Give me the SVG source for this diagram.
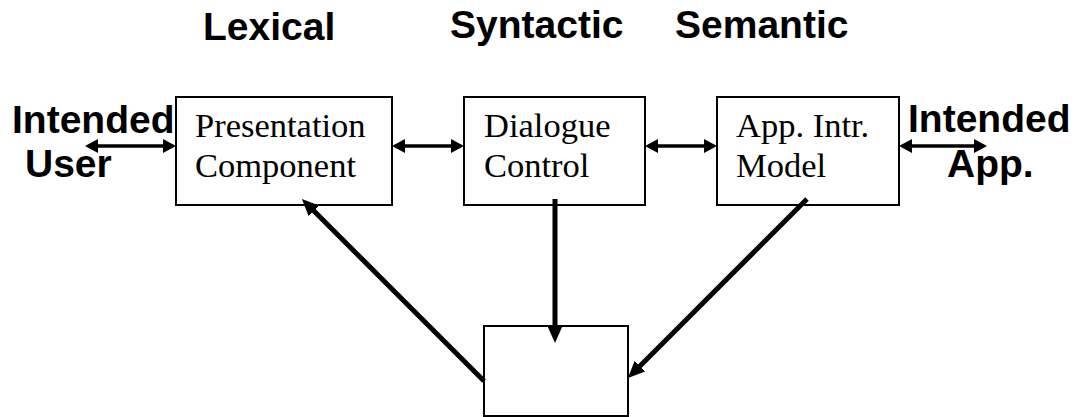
<svg xmlns="http://www.w3.org/2000/svg" width="1083" height="417" viewBox="0 0 1083 417">
  <style>
    .box { fill: #ffffff; stroke: #000000; stroke-width: 2; }
    .label { font-family: "Liberation Serif", "Times New Roman", serif; font-size: 34.5px; fill: #000000; }
    .head { font-family: "Liberation Sans", Arial, sans-serif; font-size: 39px; font-weight: bold; fill: #000000; }
    .link { stroke: #000000; stroke-width: 3.5; fill: none; marker-start: url(#tipS); marker-end: url(#tipS); }
    .flow { stroke: #000000; stroke-width: 5; fill: none; marker-end: url(#tipL); }
  </style>
  <defs>
    <marker id="tipS" markerUnits="userSpaceOnUse" markerWidth="13" markerHeight="14" refX="8" refY="7" orient="auto-start-reverse">
      <path d="M0,0 L13,7 L0,14 z" fill="#000000"/>
    </marker>
    <marker id="tipL" markerUnits="userSpaceOnUse" markerWidth="17" markerHeight="15" refX="7" refY="7.5" orient="auto">
      <path d="M0,0 L17,7.5 L0,15 z" fill="#000000"/>
    </marker>
  </defs>

  <!-- layer headings -->
  <g id="headings">
    <text class="head" x="203" y="40">Lexical</text>
    <text class="head" x="450" y="38">Syntactic</text>
    <text class="head" x="675" y="38">Semantic</text>
  </g>

  <g id="intended-user">
    <text class="head" x="12" y="133">Intended</text>
    <text class="head" x="25" y="177">User</text>
  </g>

  <g id="intended-app">
    <text class="head" x="908" y="132">Intended</text>
    <text class="head" x="947" y="177">App.</text>
  </g>

  <g id="presentation">
    <rect class="box" x="176" y="97" width="216" height="108"/>
    <text class="label" x="195" y="137">Presentation</text>
    <text class="label" x="195" y="177">Component</text>
  </g>

  <g id="dialogue">
    <rect class="box" x="464" y="97" width="181" height="108"/>
    <text class="label" x="484" y="137">Dialogue</text>
    <text class="label" x="484" y="177">Control</text>
  </g>

  <g id="app-model">
    <rect class="box" x="717" y="97" width="182" height="108"/>
    <text class="label" x="736" y="137">App. Intr.</text>
    <text class="label" x="736" y="177">Model</text>
  </g>

  <g id="bottom-box">
    <rect class="box" x="484" y="326" width="144" height="90"/>
  </g>

  <!-- connectors -->
  <g id="connectors">
    <line class="link" x1="90" y1="146" x2="171" y2="146"/>
    <line class="link" x1="397" y1="146" x2="459" y2="146"/>
    <line class="link" x1="650" y1="146" x2="712" y2="146"/>
    <line class="link" x1="904" y1="146" x2="982" y2="146"/>
    <line class="flow" x1="484" y1="381" x2="309" y2="206"/>
    <line class="flow" x1="555" y1="199" x2="555" y2="333"/>
    <line class="flow" x1="807" y1="199" x2="635" y2="371"/>
  </g>
</svg>
